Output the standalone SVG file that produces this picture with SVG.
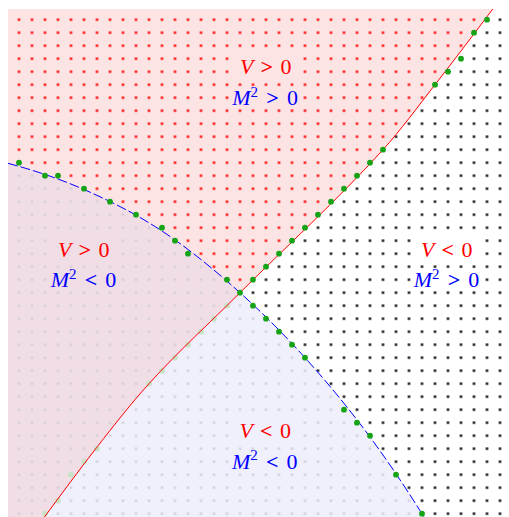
<svg xmlns="http://www.w3.org/2000/svg" width="509" height="517" viewBox="0 0 509 517">
<style>
.t{font-family:"Liberation Serif","Times New Roman",serif;font-size:22px}
.r{fill:#ff0000}
.b{fill:#0000ff}
.i{font-style:italic}
.s{font-size:15px}
.w{font-weight:bold}
.g{fill:#16a316}
.gf{fill:#c8e2c6}
.vline{fill:none;stroke:#ff0000;stroke-width:1}
.mline{fill:none;stroke:#0000ff;stroke-width:1;stroke-dasharray:10 3}
</style>
<defs>
<clipPath id="plot"><rect x="8" y="9" width="510" height="520"/></clipPath>
<pattern id="pR" x="12.5" y="13.2" width="13" height="13" patternUnits="userSpaceOnUse"><rect x="5.3" y="5.3" width="2.4" height="2.4" fill="#ff0000"/></pattern>
<pattern id="pK" x="12.5" y="13.2" width="13" height="13" patternUnits="userSpaceOnUse"><rect x="5.3" y="5.3" width="2.4" height="2.4" fill="#000000"/></pattern>
<pattern id="pG" x="12.5" y="13.2" width="13" height="13" patternUnits="userSpaceOnUse"><rect x="5.3" y="5.3" width="2.4" height="2.4" fill="#d0cdd7"/></pattern>
<path id="vpos" d="M0,0 L499.5,0 L493.3,8.3 C473.87,34.15 454.43,59.82 435,84.7 C417.67,106.89 400.33,130.63 383,149.7 C335.33,202.13 287.67,245.03 240,292.7 C209.67,323.03 179.33,350.33 149,383.7 C131.77,402.66 114.53,424.64 97.3,446.7 C79.77,469.14 62.23,493.03 44.7,516.7 L38.6,525 L0,525 Z"/>
<path id="mneg" d="M0,161.1 L8,163.3 C33.33,170.14 58.67,178.35 84,189.5 C110,200.94 136,213.84 162,231 C188,248.16 214,269.3 240,292.7 C261.67,312.2 283.33,333.65 305,357.7 C326.67,381.75 348.33,407.75 370,437 C388,461.3 406,488.2 424,517 L429,525 L0,525 Z"/>
<path id="left" d="M0,161.1 L8,163.3 C33.33,170.14 58.67,178.35 84,189.5 C110,200.94 136,213.84 162,231 C188,248.16 214,269.3 240,292.7 C209.67,323.03 179.33,350.33 149,383.7 C131.77,402.66 114.53,424.64 97.3,446.7 C79.77,469.14 62.23,493.03 44.7,516.7 L38.6,525 L0,525 Z"/>
<path id="top" d="M0,0 L499.5,0 L493.3,8.3 C473.87,34.15 454.43,59.82 435,84.7 C417.67,106.89 400.33,130.63 383,149.7 C335.33,202.13 287.67,245.03 240,292.7 C214,269.3 188,248.16 162,231 C136,213.84 110,200.94 84,189.5 C58.67,178.35 33.33,170.14 8,163.3 L0,161.1 Z"/>
<path id="right" d="M240,292.7 C287.67,245.03 335.33,202.13 383,149.7 C400.33,130.63 417.67,106.89 435,84.7 C454.43,59.82 473.87,34.15 493.3,8.3 L499.5,0 L520,0 L520,525 L429,525 L424,517 C406,488.2 388,461.3 370,437 C348.33,407.75 326.67,381.75 305,357.7 C283.33,333.65 261.67,312.2 240,292.7 Z"/>
</defs>
<g id="regions" clip-path="url(#plot)">
<use href="#vpos" fill="#fde4e4"/>
<use href="#mneg" fill="#f0f0fc"/>
<use href="#left" fill="#f1dde6"/>
<use href="#top" fill="url(#pR)"/>
<use href="#right" fill="url(#pK)"/>
<use href="#mneg" fill="url(#pG)"/>
</g>
<g id="label-boxes">
<rect x="237" y="54.5" width="58" height="22.5" fill="#fde4e4"/>
<rect x="229.3" y="86.5" width="73" height="22" fill="#fde4e4"/>
<rect x="55.1" y="237.5" width="58" height="22.5" fill="#f1dde6"/>
<rect x="47.7" y="268.5" width="73" height="22" fill="#f1dde6"/>
<rect x="418.1" y="237.5" width="58" height="22.5" fill="#ffffff"/>
<rect x="410.7" y="268.5" width="73" height="22" fill="#ffffff"/>
<rect x="236.5" y="419" width="58" height="22.5" fill="#f0f0fc"/>
<rect x="229" y="450" width="73" height="22" fill="#f0f0fc"/>
</g>
<g id="faint-points" class="gf">
<circle cx="227" cy="305.7" r="2.9"/><circle cx="214" cy="318.7" r="2.9"/><circle cx="201" cy="331.7" r="2.9"/><circle cx="188" cy="344.7" r="2.9"/><circle cx="175" cy="357.7" r="2.9"/><circle cx="162" cy="370.7" r="2.9"/><circle cx="149" cy="383.7" r="2.9"/><circle cx="97" cy="448.7" r="2.9"/><circle cx="84" cy="461.7" r="2.9"/><circle cx="71" cy="474.7" r="2.9"/><circle cx="58" cy="500.7" r="2.9"/><circle cx="45" cy="513.7" r="2.9"/>
</g>
<g id="connectors" clip-path="url(#plot)">
<path id="curve-V0" class="vline" d="M38.6,525 L44.7,516.7 C62.23,493.03 79.77,469.14 97.3,446.7 C114.53,424.64 131.77,402.66 149,383.7 C179.33,350.33 209.67,323.03 240,292.7 C287.67,245.03 335.33,202.13 383,149.7 C400.33,130.63 417.67,106.89 435,84.7 C454.43,59.82 473.87,34.15 493.3,8.3 L499.5,0"/>
<path id="curve-M0" class="mline" d="M8,163.3 C33.33,170.14 58.67,178.35 84,189.5 C110,200.94 136,213.84 162,231 C188,248.16 214,269.3 240,292.7 C261.67,312.2 283.33,333.65 305,357.7 C326.67,381.75 348.33,407.75 370,437 C388,461.3 406,488.2 424,517 L429,525"/>
</g>
<g id="points" class="g">
<circle cx="19" cy="162.7" r="2.9"/><circle cx="45" cy="175.7" r="2.9"/><circle cx="58" cy="175.7" r="2.9"/><circle cx="84" cy="188.7" r="2.9"/><circle cx="110" cy="201.7" r="2.9"/><circle cx="136" cy="214.7" r="2.9"/><circle cx="162" cy="227.7" r="2.9"/><circle cx="175" cy="240.7" r="2.9"/><circle cx="188" cy="253.7" r="2.9"/><circle cx="227" cy="279.7" r="2.9"/><circle cx="240" cy="292.7" r="2.9"/>
<circle cx="253" cy="305.7" r="2.9"/><circle cx="266" cy="318.7" r="2.9"/><circle cx="279" cy="331.7" r="2.9"/><circle cx="292" cy="344.7" r="2.9"/><circle cx="305" cy="357.7" r="2.9"/><circle cx="344" cy="409.7" r="2.9"/><circle cx="357" cy="422.7" r="2.9"/><circle cx="370" cy="435.7" r="2.9"/><circle cx="396" cy="474.7" r="2.9"/><circle cx="422" cy="513.7" r="2.9"/>
<circle cx="253" cy="279.7" r="2.9"/><circle cx="266" cy="266.7" r="2.9"/><circle cx="279" cy="253.7" r="2.9"/><circle cx="292" cy="240.7" r="2.9"/><circle cx="305" cy="227.7" r="2.9"/><circle cx="318" cy="214.7" r="2.9"/><circle cx="331" cy="201.7" r="2.9"/><circle cx="344" cy="188.7" r="2.9"/><circle cx="357" cy="175.7" r="2.9"/><circle cx="370" cy="162.7" r="2.9"/><circle cx="383" cy="149.7" r="2.9"/><circle cx="435" cy="84.7" r="2.9"/><circle cx="448" cy="71.7" r="2.9"/><circle cx="461" cy="58.7" r="2.9"/><circle cx="474" cy="32.7" r="2.9"/><circle cx="487" cy="19.7" r="2.9"/>
</g>
<g id="label-top">
<text class="t r" y="73.5"><tspan class="i" x="240">V</tspan><tspan class="w" x="260.5">&gt;</tspan><tspan x="280.5">0</tspan></text>
<text class="t b" y="105"><tspan class="i" x="232.3">M</tspan><tspan class="s" x="250.5" dy="-8.5">2</tspan><tspan class="w" x="266.3" dy="8.5">&gt;</tspan><tspan x="286.9">0</tspan></text>
</g>
<g id="label-left">
<text class="t r" y="256.5"><tspan class="i" x="58.1">V</tspan><tspan class="w" x="78.6">&gt;</tspan><tspan x="98.6">0</tspan></text>
<text class="t b" y="287"><tspan class="i" x="50.7">M</tspan><tspan class="s" x="68.9" dy="-8.5">2</tspan><tspan class="w" x="84.7" dy="8.5">&lt;</tspan><tspan x="105.3">0</tspan></text>
</g>
<g id="label-right">
<text class="t r" y="256.5"><tspan class="i" x="421.1">V</tspan><tspan class="w" x="441.6">&lt;</tspan><tspan x="461.6">0</tspan></text>
<text class="t b" y="287"><tspan class="i" x="413.7">M</tspan><tspan class="s" x="431.9" dy="-8.5">2</tspan><tspan class="w" x="447.7" dy="8.5">&gt;</tspan><tspan x="468.3">0</tspan></text>
</g>
<g id="label-bottom">
<text class="t r" y="438"><tspan class="i" x="239.5">V</tspan><tspan class="w" x="260">&lt;</tspan><tspan x="280">0</tspan></text>
<text class="t b" y="468.5"><tspan class="i" x="232">M</tspan><tspan class="s" x="250.2" dy="-8.5">2</tspan><tspan class="w" x="266" dy="8.5">&lt;</tspan><tspan x="286.6">0</tspan></text>
</g>
</svg>
